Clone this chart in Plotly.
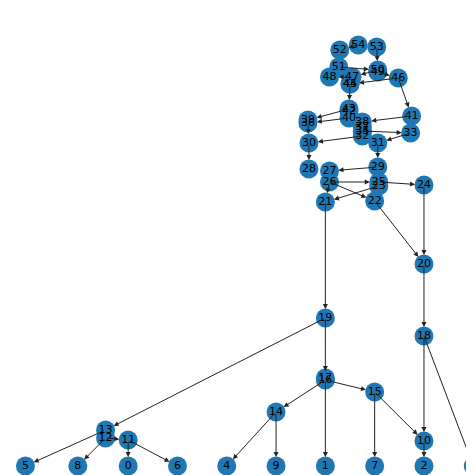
import plotly.graph_objects as go

# node layout (pixel-ish coordinates, y downwards)
node_ids = list(range(55))
node_x = [117, 309, 405, 453, 213, 17, 165, 357, 68, 261,
          405, 117, 95, 95, 261, 357, 309, 309, 405, 309,
          405, 309, 357, 361, 405, 361, 313, 313, 293, 360,
          293, 360, 345, 392, 345, 345, 292, 345, 345, 292,
          332, 393, 332, 332, 333, 333, 380, 335, 313, 360,
          360, 322, 323, 359, 341]
node_y = [451, 451, 451, 451, 451, 451, 451, 451, 451, 451,
          426, 425, 423, 415, 397, 377, 365, 363, 321, 303,
          249, 187, 186, 171, 170, 167, 167, 156, 154, 152,
          128, 128, 121, 118, 116, 116, 108, 112, 107, 105,
          103, 101, 96, 94, 69, 69, 63, 62, 62, 57,
          55, 52, 35, 32, 30]

edge_src = [54, 53, 51, 50, 49, 46, 47, 44, 43, 40, 46, 41, 34, 33, 32, 36,
            31, 29, 30, 26, 26, 25, 23, 26, 22, 24, 21, 20, 19, 19, 16, 16,
            16, 15, 15, 18, 18, 10, 14, 14, 12, 13, 12, 11, 11]
edge_dst = [52, 50, 50, 47, 46, 44, 48, 43, 39, 36, 41, 38, 33, 31, 30, 30,
            29, 27, 28, 25, 22, 24, 21, 21, 20, 20, 19, 18, 16, 13, 15, 14,
            1, 7, 10, 10, 3, 2, 4, 9, 11, 5, 8, 0, 6]

fig = go.Figure()

for s, d in zip(edge_src, edge_dst):
    fig.add_annotation(x=node_x[d], y=node_y[d], ax=node_x[s], ay=node_y[s],
                       xref="x", yref="y", axref="x", ayref="y", text="",
                       showarrow=True, arrowhead=2, arrowsize=1, arrowwidth=1,
                       arrowcolor="#222", standoff=9)

fig.add_trace(go.Scatter(
    x=node_x, y=node_y, mode="markers+text",
    text=[str(i) for i in node_ids], textposition="middle center",
    textfont=dict(family="DejaVu Sans", size=11, color="black"),
    marker=dict(size=19, color="#1f78b4"),
    hoverinfo="skip"
))

fig.update_layout(
    width=474, height=475, margin=dict(l=0, r=0, t=0, b=0),
    plot_bgcolor="white", paper_bgcolor="white", showlegend=False,
    xaxis=dict(range=[0, 461.5], visible=False),
    yaxis=dict(range=[468, -7], visible=False),
)

fig.write_html("out.html")
